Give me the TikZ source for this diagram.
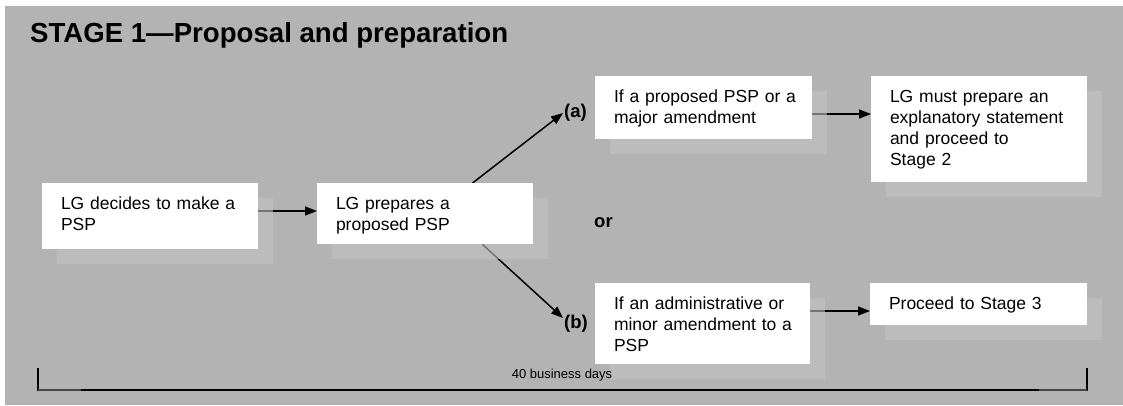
\documentclass[tikz,border=0pt]{standalone}
\usepackage{fontspec}
\setmainfont{Liberation Sans}
\usetikzlibrary{arrows.meta,calc}
\definecolor{bggray}{RGB}{179,179,179}
\definecolor{shadowgray}{RGB}{194,194,194}
\definecolor{endgray}{RGB}{70,70,70}
\pgfdeclarelayer{bglayer}
\pgfdeclarelayer{arrowlayer}
\pgfdeclarelayer{shadowlayer}
\pgfsetlayers{bglayer,arrowlayer,shadowlayer,main}
\begin{document}
\begin{tikzpicture}[x=1pt,y=-1pt,
  box/.style={fill=white, anchor=north west, inner xsep=19pt, inner ysep=0pt, outer sep=0pt,
    align=left, font=\fontsize{17.5}{21}\selectfont, text height=26pt},
  shadowbox/.style={fill=shadowgray, fill opacity=0.6, draw=none},
  arr/.style={line width=1.5pt, -{Triangle[length=12pt,width=9pt]}},
  lbl/.style={font=\bfseries\fontsize{18.5}{22}\selectfont, inner sep=0pt, anchor=base west},
  bracket/.style={line width=1.3pt, black},
]
\useasboundingbox (0,0) rectangle (1123,405);
\begin{pgfonlayer}{bglayer}
  \fill[bggray] (5,6) rectangle (1123,405);
\end{pgfonlayer}

% title
\node[font=\bfseries\fontsize{27.6}{32}\selectfont, inner sep=0pt, anchor=base west] (title) at (30,42) {STAGE 1---Proposal and preparation};

% boxes
\node[box, text width=178pt, text depth=40pt] (b1) at (42,183) {\mbox{LG decides to make a}\\\mbox{PSP}};
\node[box, text width=178pt, text depth=35pt] (b2) at (317,183) {\mbox{LG prepares a}\\\mbox{proposed PSP}};
\node[box, text width=179pt, text depth=37pt] (b3) at (595,76) {\mbox{If a proposed PSP or a}\\\mbox{major amendment}};
\node[box, text width=178pt, text depth=80pt] (b4) at (871,76) {\mbox{LG must prepare an}\\\mbox{explanatory statement}\\\mbox{and proceed to}\\\mbox{Stage 2}};
\node[box, text width=177pt, text depth=55pt] (b5) at (595,283) {\mbox{If an administrative or}\\\mbox{minor amendment to a}\\\mbox{PSP}};
\node[box, text width=179pt, text depth=16pt] (b6) at (870,283) {\mbox{Proceed to Stage 3}};

% labels
\node[lbl] (la) at (564,117) {(a)};
\node[lbl] (lb) at (564,328) {(b)};
\node[lbl] (lor) at (594,227) {or};

% shadows
\begin{pgfonlayer}{shadowlayer}
  \foreach \b in {b1,b2,b3,b4,b5,b6}{
    \fill[shadowbox] ($(\b.north west)+(15,15)$) rectangle ($(\b.south east)+(15,15)$);
  }
\end{pgfonlayer}

% connectors
\coordinate (ta) at (563,113);
\coordinate (tb) at (563,318);
\begin{pgfonlayer}{arrowlayer}
  \draw[arr] ($(b1.east)+(0,-5)$) -- ($(b2.west |- b1.east)+(0,-5)$);
  \draw[arr] ($(b2.north west)!0.72!(b2.north east)$) -- (ta);
  \draw[arr] ($(b2.south west)!0.764!(b2.south east)$) -- (tb);
  \draw[arr] ($(b3.east)+(0,6.5)$) -- ($(b4.west |- b3.east)+(0,6.5)$);
  \draw[arr] ($(b5.east)+(0,-12.5)$) -- ($(b6.west |- b5.east)+(0,-12.5)$);
\end{pgfonlayer}

% bracket
\coordinate (bl) at (38,368);
\coordinate (blb) at (38,390);
\coordinate (brb) at (1087,390);
\coordinate (br) at (1087,368);
\draw[bracket] (bl) -- (blb) -- (brb) -- (br);
\draw[line width=1.3pt, endgray] (blb) -- ($(blb)+(43,0)$);
\draw[line width=1.3pt, endgray] ($(brb)+(-48,0)$) -- (brb);
\node[font=\fontsize{13}{15}\selectfont, inner sep=0pt, anchor=base] (days) at (562,378) {40 business days};
\end{tikzpicture}
\end{document}
